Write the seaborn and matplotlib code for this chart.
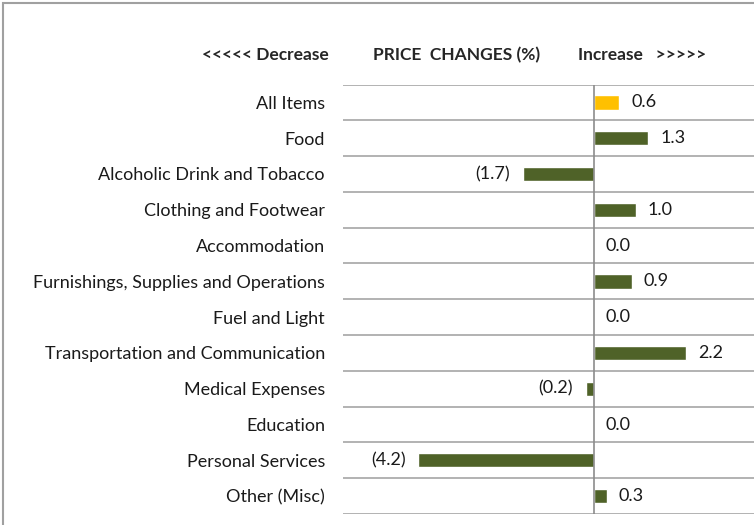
import matplotlib
matplotlib.use("Agg")
import matplotlib.pyplot as plt
import seaborn as sns
import pandas as pd
from matplotlib.patches import Rectangle

categories = ["All Items", "Food", "Alcoholic Drink and Tobacco", "Clothing and Footwear",
              "Accommodation", "Furnishings, Supplies and Operations", "Fuel and Light",
              "Transportation and Communication", "Medical Expenses", "Education",
              "Personal Services", "Other (Misc)"]
values = [0.6, 1.3, -1.7, 1.0, 0.0, 0.9, 0.0, 2.2, -0.2, 0.0, -4.2, 0.3]
groups = ["all"] + ["group"] * 11

sns.set_theme(style="white")
plt.rcParams['font.family'] = ['Lato', 'DejaVu Sans']

FS = 13

df = pd.DataFrame({"cat": categories, "val": values, "grp": groups})

fig = plt.figure(figsize=(7.54, 5.25), dpi=100)
ax = fig.add_axes([343/754, 11/525, 1 - 343/754, (514 - 84.5)/525])

sns.barplot(data=df, y="cat", x="val", hue="grp", orient="h",
            palette={"all": "#FFC000", "group": "#4F6228"},
            width=0.4, dodge=False, legend=False, ax=ax, saturation=1)

ax.set_xlim(-5.99, 3.82)
ax.set_ylim(11.5, -0.5)
for s in ax.spines.values():
    s.set_visible(False)
ax.set_xticks([])
ax.set_xlabel("")
ax.set_ylabel("")
ax.tick_params(axis="y", length=0, pad=13, labelsize=FS, colors="#1a1a1a")
ax.set_yticks(range(len(categories)))
ax.set_yticklabels(categories)

ax.set_yticks([i + 0.5 for i in range(-1, len(categories))], minor=True)
ax.tick_params(axis="y", which="minor", length=0)
ax.grid(True, axis="y", which="minor", color="#A6A6A6", lw=1.2)
ax.grid(False, axis="x")
ax.grid(False, axis="y", which="major")
ax.axvline(0, color="#8C8C8C", lw=1.2)

for i, v in enumerate(values):
    if v < 0:
        ax.annotate(f"({abs(v):.1f})", xy=(v, i), xytext=(-9, 0), textcoords="offset points",
                    ha="right", va="center", fontsize=FS, color="#1a1a1a")
    else:
        ax.annotate(f"{v:.1f}", xy=(v, i), xytext=(8.6, 0), textcoords="offset points",
                    ha="left", va="center", fontsize=FS, color="#1a1a1a")

hy = 1 - 55/525
fig.text(329/754, hy, "<<<<< Decrease", ha="right", va="center", fontsize=12.5, fontweight="bold")
fig.text(457/754, hy, "PRICE  CHANGES (%)", ha="center", va="center", fontsize=12.5, fontweight="bold")
fig.text(578/754, hy, "Increase   >>>>>", ha="left", va="center", fontsize=12.5, fontweight="bold")

fig.patches.append(Rectangle((3/754, -0.1), 1.2, 1 - 3/525 + 0.1, transform=fig.transFigure,
                             fill=False, edgecolor="#A0A0A0", lw=1.5))

fig.savefig("out.png", dpi=100)
